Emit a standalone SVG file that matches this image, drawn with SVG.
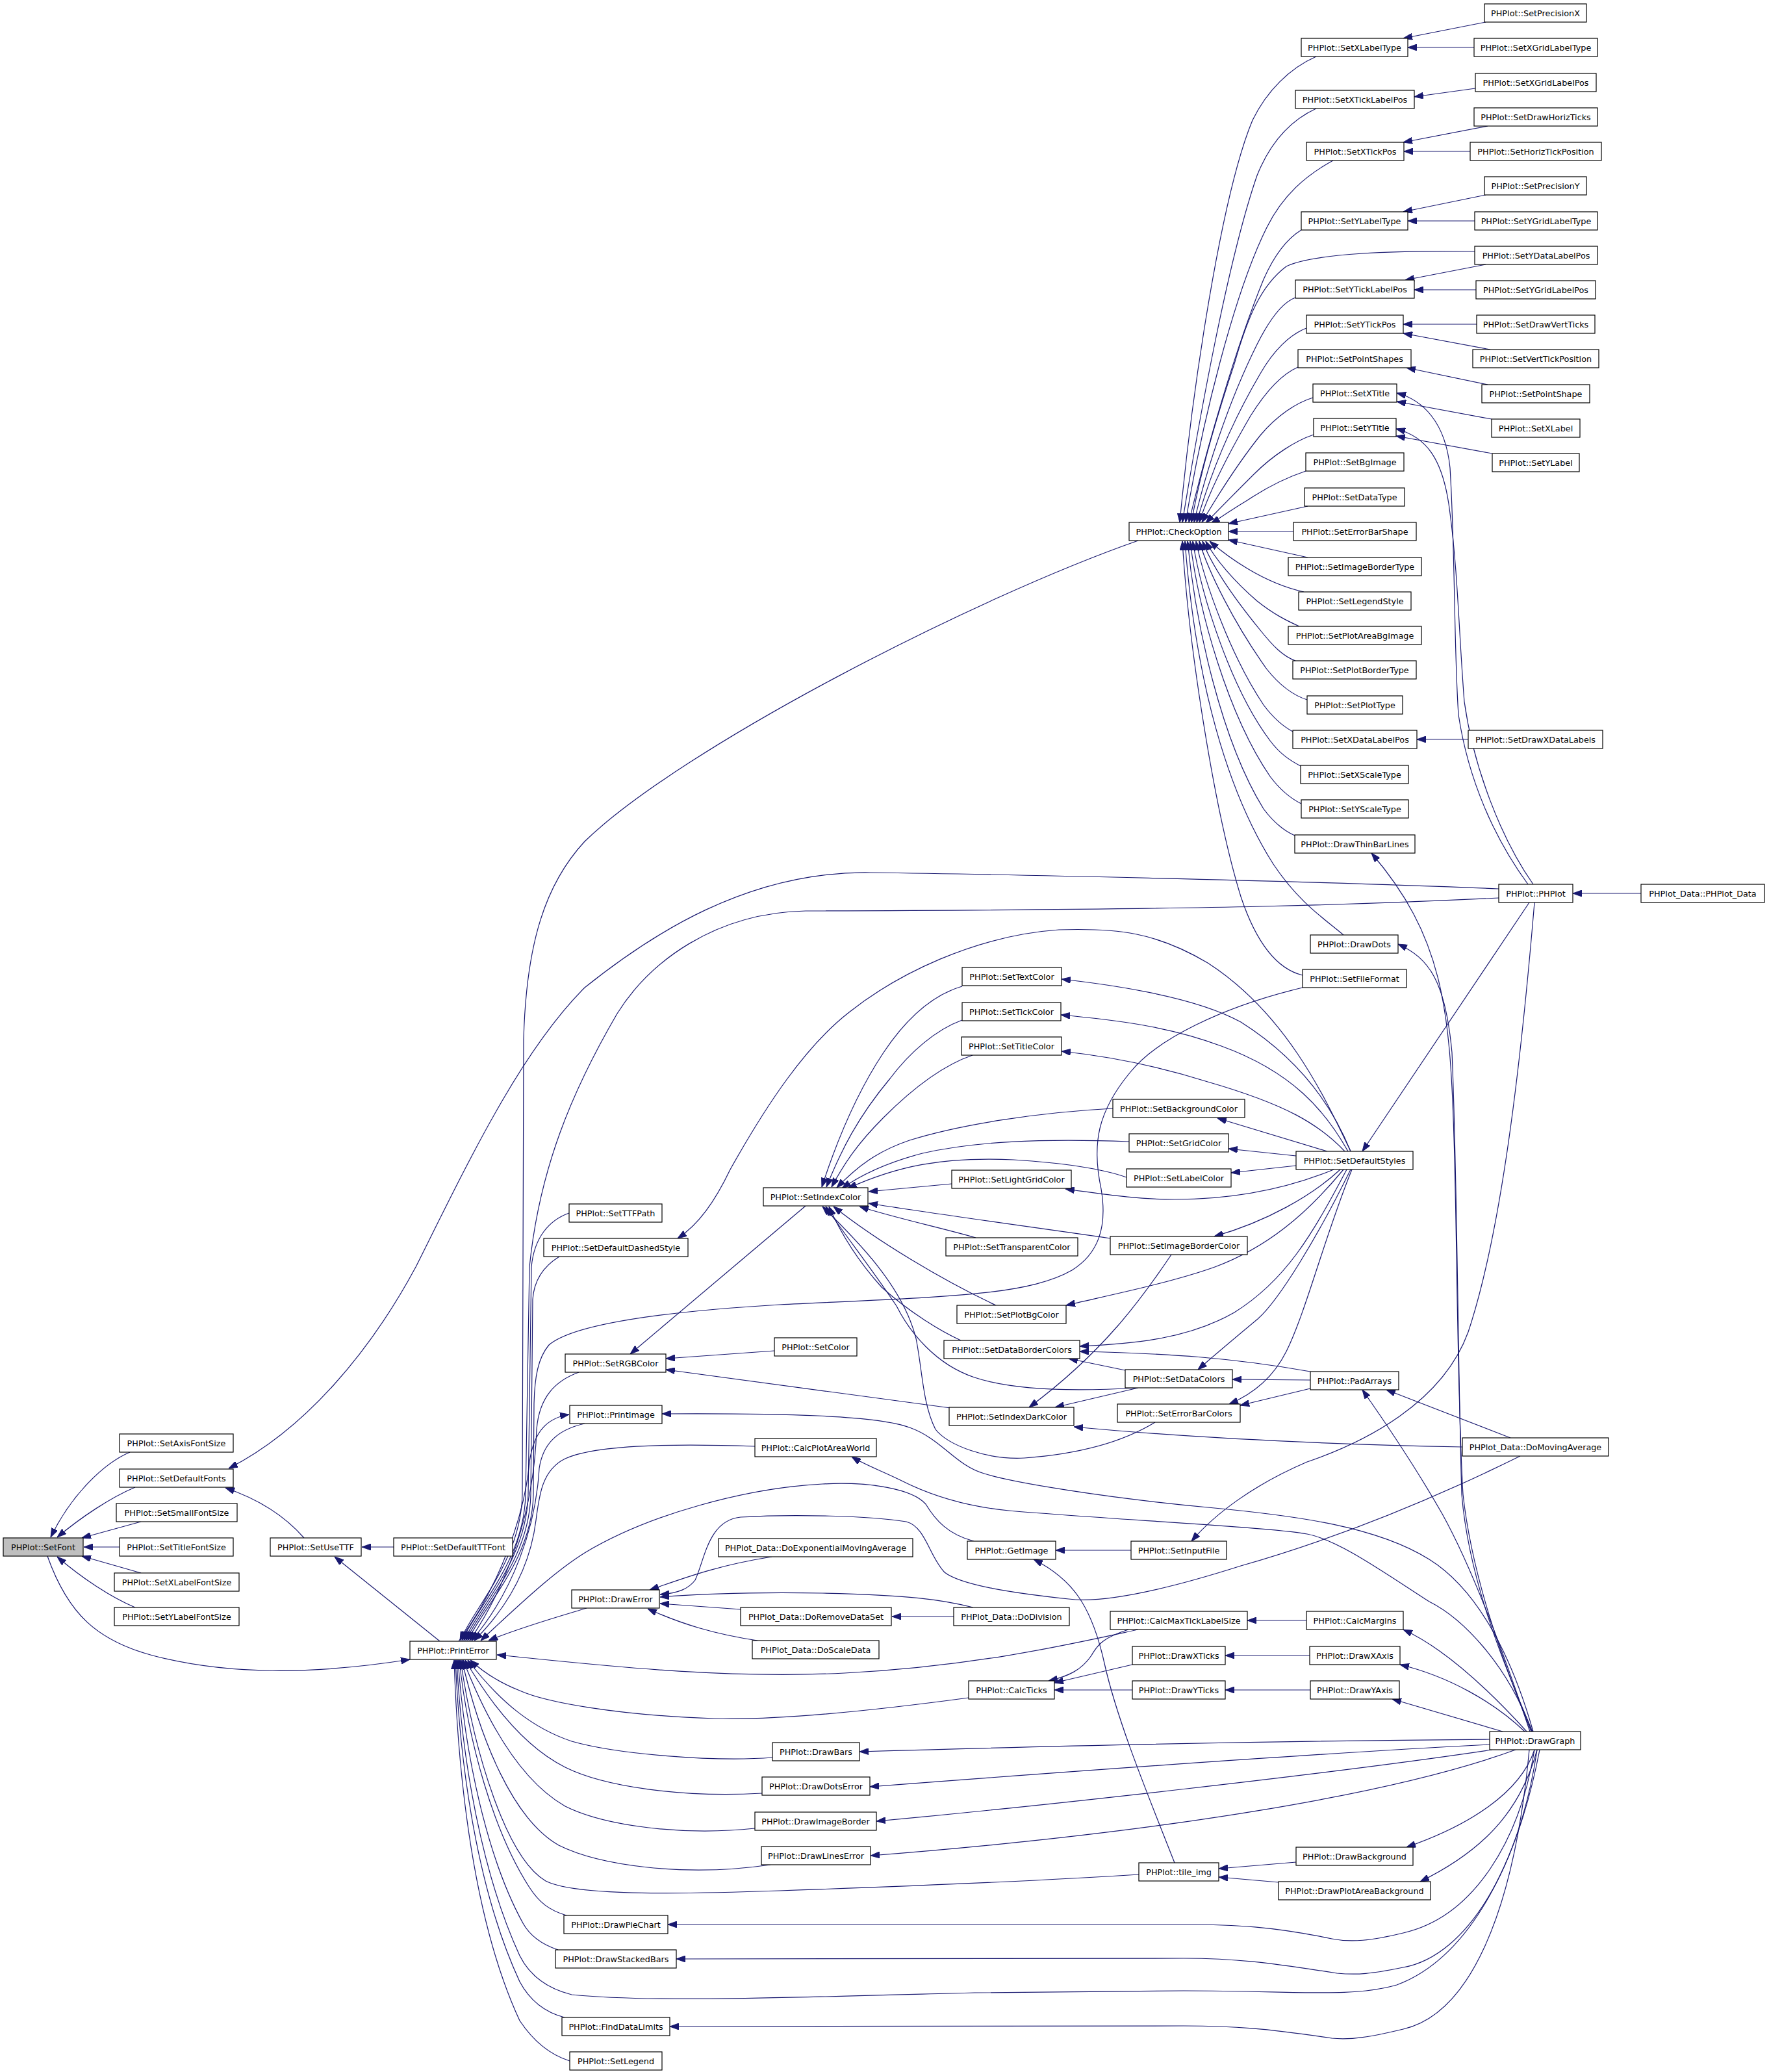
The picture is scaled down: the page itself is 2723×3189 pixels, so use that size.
<svg xmlns="http://www.w3.org/2000/svg" width="2723" height="3189" viewBox="0 0 2723 3189">
<defs>
<marker id="a" viewBox="0 0 14 10" refX="14" refY="5" markerWidth="14" markerHeight="10" markerUnits="userSpaceOnUse" orient="auto">
<path d="M0,0 L14,5 L0,10 z" fill="#191970" stroke="#191970" stroke-width="1"/>
</marker>
</defs>
<style>
.n rect{fill:#ffffff;stroke:#000000;stroke-width:1.2}
.n.f rect{fill:#bfbfbf}
.n text{font-family:"DejaVu Sans","Liberation Sans",sans-serif;font-size:12.8px;fill:#000000;text-anchor:middle}
#edges path{fill:none;stroke:#191970;stroke-width:1.2;marker-end:url(#a)}
</style>
<rect x="0" y="0" width="2723" height="3189" fill="#ffffff"/>
<g id="edges">
<path d="M200,2235 C160,2252 110,2300 78,2366"/>
<path d="M208,2289 C170,2305 125,2335 88,2366"/>
<path d="M217,2342 L126,2367"/>
<path d="M184,2381 L129,2381"/>
<path d="M217,2421 L126,2395"/>
<path d="M208,2474 C170,2458 125,2428 88,2396"/>
<path d="M73,2395 C105,2485 150,2525 235,2548 C350,2578 480,2578 631,2554"/>
<path d="M468,2367 C440,2335 400,2308 347,2290"/>
<path d="M2307,1368 C2000,1355 1500,1345 1340,1343 C1150,1340 1000,1440 900,1520 C800,1620 720,1790 640,1950 C570,2080 470,2200 352,2260"/>
<path d="M606,2381 L557,2381"/>
<path d="M677,2526 L515,2396"/>
<path d="M1752,832 C1500,920 1050,1150 900,1295 C840,1360 810,1450 806,1600 L804,2300 C802,2400 733,2470 708,2525"/>
<path d="M2307,1382 C2100,1392 1900,1400 1240,1402 C1100,1405 1000,1480 950,1560 C880,1680 830,1800 815,1950 L809,2300 C807,2400 737,2470 711,2525"/>
<path d="M876,1867 C845,1878 822,1905 818,1950 L813,2300 C811,2400 740,2470 714,2525"/>
<path d="M861,1934 C838,1948 822,1970 820,2000 L817,2300 C815,2400 743,2470 717,2525"/>
<path d="M2005,1520 C1880,1550 1780,1600 1740,1650 C1690,1710 1680,1760 1695,1830 C1705,1890 1690,1930 1650,1955 C1580,1995 1450,1996 1200,2008 C1000,2020 880,2040 845,2070 C828,2090 823,2120 822,2160 L821,2300 C819,2400 746,2470 720,2525"/>
<path d="M891,2112 C855,2125 830,2150 826,2200 C822,2330 780,2440 723,2525"/>
<path d="M900,2191 C860,2200 836,2220 830,2260 C825,2350 790,2450 726,2525"/>
<path d="M706,2526 C770,2440 808,2330 815,2250 C822,2200 845,2182 876,2177"/>
<path d="M1162,2226 C1050,2222 920,2222 870,2245 C835,2262 830,2300 825,2340 C815,2420 775,2480 730,2525"/>
<path d="M1499,2372 C1460,2362 1440,2340 1425,2315 C1405,2292 1340,2280 1266,2284 C1150,2290 1000,2330 900,2390 C860,2415 820,2450 740,2525"/>
<path d="M903,2475 C860,2488 800,2505 752,2525"/>
<path d="M1752,2508 C1650,2530 1500,2565 1300,2575 C1100,2585 900,2560 765,2547"/>
<path d="M1491,2613 C1350,2632 1200,2648 1100,2645 C950,2640 840,2620 800,2602 C770,2590 745,2575 724,2555"/>
<path d="M1189,2705 C1100,2712 950,2700 880,2680 C820,2660 770,2620 720,2555"/>
<path d="M1173,2760 C1050,2767 930,2750 870,2720 C810,2690 760,2630 716,2555"/>
<path d="M1162,2814 C1050,2826 930,2810 870,2780 C800,2740 750,2650 713,2555"/>
<path d="M1186,2870 C1050,2890 920,2870 860,2840 C790,2800 740,2680 711,2555"/>
<path d="M1753,2885 C1600,2895 1400,2903 1200,2910 C1000,2917 880,2915 840,2895 C780,2860 730,2700 709,2555"/>
<path d="M872,2948 C845,2940 830,2928 815,2905 C760,2820 720,2680 707,2555"/>
<path d="M859,3001 C832,2992 815,2978 805,2960 C750,2860 715,2700 705,2555"/>
<path d="M2370,2693 C2340,2850 2270,3010 2150,3055 C2080,3075 2000,3064 1822,3064 L1500,3067 C1200,3075 1000,3082 880,3070 C840,3060 815,3040 800,3010 C740,2880 710,2700 703,2555"/>
<path d="M869,3105 C838,3097 815,3078 800,3050 C735,2910 708,2720 701,2555"/>
<path d="M877,3172 C845,3162 820,3140 800,3110 C730,2960 705,2740 699,2555"/>
<path d="M1188,2396 C1100,2410 1050,2430 1000,2447"/>
<path d="M2340,2241 C2200,2310 2050,2370 1910,2410 C1800,2445 1700,2468 1645,2461 C1560,2452 1480,2440 1454,2420 C1430,2395 1425,2350 1395,2342 C1340,2333 1220,2330 1140,2335 C1090,2340 1085,2400 1070,2432 C1060,2445 1045,2452 1016,2454"/>
<path d="M1498,2474 C1450,2462 1400,2455 1266,2452 C1150,2450 1080,2453 1016,2458"/>
<path d="M1140,2477 L1016,2468"/>
<path d="M1166,2525 C1100,2515 1050,2500 997,2476"/>
<path d="M1468,2488 L1373,2488"/>
<path d="M1481,1518 C1440,1530 1400,1560 1360,1620 C1320,1680 1290,1750 1265,1827"/>
<path d="M1481,1570 C1440,1585 1400,1620 1370,1660 C1320,1720 1295,1770 1272,1827"/>
<path d="M1497,1624 C1450,1640 1400,1680 1360,1720 C1320,1760 1300,1790 1280,1827"/>
<path d="M1713,1706 C1600,1712 1480,1730 1400,1755 C1350,1772 1320,1795 1288,1828"/>
<path d="M1738,1757 C1600,1752 1500,1757 1420,1775 C1370,1788 1330,1805 1296,1829"/>
<path d="M1734,1812 C1700,1800 1640,1790 1560,1785 C1450,1780 1380,1795 1305,1829"/>
<path d="M1465,1822 L1337,1834"/>
<path d="M1502,1905 C1450,1890 1380,1875 1323,1857"/>
<path d="M1709,1906 C1600,1890 1450,1870 1337,1852"/>
<path d="M1533,2009 C1450,1970 1350,1910 1283,1857"/>
<path d="M1479,2063 C1450,2050 1400,2020 1357,1981 C1320,1940 1295,1900 1276,1857"/>
<path d="M1750,2136 C1650,2142 1560,2140 1500,2120 C1440,2100 1400,2050 1380,2010 C1340,1950 1300,1900 1271,1857"/>
<path d="M1778,2189 C1760,2200 1700,2235 1577,2244 C1520,2247 1460,2225 1440,2200 C1420,2160 1420,2110 1410,2060 C1390,1980 1320,1910 1266,1857"/>
<path d="M2079,1772 C2040,1690 1980,1560 1859,1482 C1780,1435 1720,1428 1630,1431 C1500,1440 1380,1500 1307,1558 C1240,1610 1180,1700 1124,1800 C1100,1850 1075,1885 1043,1906"/>
<path d="M2079,1772 C2050,1700 2000,1630 1910,1573 C1850,1540 1750,1520 1634,1507"/>
<path d="M2075,1772 C2040,1710 1990,1650 1880,1610 C1800,1580 1720,1570 1633,1562"/>
<path d="M2070,1772 C2030,1730 1980,1700 1859,1665 C1780,1640 1700,1625 1634,1618"/>
<path d="M2043,1772 L1874,1721"/>
<path d="M1995,1779 L1891,1768"/>
<path d="M1995,1794 L1895,1805"/>
<path d="M2053,1800 C1980,1830 1900,1846 1808,1846 C1750,1846 1700,1838 1640,1830"/>
<path d="M2063,1800 C2020,1840 1950,1880 1869,1903"/>
<path d="M2068,1800 C2010,1870 1950,1920 1870,1950 C1800,1975 1700,1995 1641,2009"/>
<path d="M2073,1800 C2020,1900 1980,1970 1900,2020 C1830,2060 1750,2068 1662,2072"/>
<path d="M2079,1800 C2030,1900 1970,2000 1936,2030 C1900,2060 1870,2085 1844,2108"/>
<path d="M2081,1800 C2040,1900 2010,2020 1980,2080 C1960,2120 1930,2145 1892,2161"/>
<path d="M2354,1389 L2097,1772"/>
<path d="M2017,2111 C1900,2090 1800,2083 1662,2080"/>
<path d="M2017,2124 L1897,2123"/>
<path d="M2017,2137 L1909,2163"/>
<path d="M1732,2109 L1645,2091"/>
<path d="M1752,2136 L1624,2166"/>
<path d="M1803,1931 C1760,1995 1700,2080 1584,2166"/>
<path d="M2251,2227 C2000,2222 1800,2210 1653,2196"/>
<path d="M1463,2167 L1025,2108"/>
<path d="M1192,2079 L1025,2091"/>
<path d="M1240,1856 L970,2084"/>
<path d="M2325,2213 L2134,2139"/>
<path d="M2355,2665 C2320,2560 2270,2420 2220,2330 C2180,2260 2140,2200 2097,2139"/>
<path d="M2026,87 C1985,105 1950,140 1928,185 C1880,300 1835,600 1816,804"/>
<path d="M2026,167 C1985,186 1955,220 1935,270 C1890,400 1845,650 1820,804"/>
<path d="M2052,247 C2010,270 1975,300 1950,350 C1900,450 1850,650 1825,804"/>
<path d="M2003,354 C1985,365 1965,385 1945,430 C1900,540 1855,700 1830,804"/>
<path d="M2270,387 C2150,385 2020,390 1980,410 C1940,440 1920,490 1900,560 C1870,650 1845,740 1834,804"/>
<path d="M1994,458 C1975,465 1955,490 1935,530 C1890,620 1855,730 1838,804"/>
<path d="M2011,505 C1985,515 1960,540 1940,575 C1890,660 1860,740 1842,804"/>
<path d="M1998,565 C1975,575 1950,600 1925,640 C1890,700 1860,760 1846,804"/>
<path d="M2021,612 C1995,620 1965,640 1940,670 C1900,720 1870,770 1850,804"/>
<path d="M2022,669 C1995,678 1960,700 1930,730 C1900,760 1875,785 1856,805"/>
<path d="M2010,725 C1980,735 1950,750 1920,770 C1895,785 1878,797 1864,806"/>
<path d="M2013,779 L1891,806"/>
<path d="M1991,818 L1891,818"/>
<path d="M2013,858 L1891,831"/>
<path d="M2007,911 C1980,905 1950,893 1920,875 C1895,860 1877,846 1862,833"/>
<path d="M2000,964 C1980,955 1960,945 1935,925 C1900,895 1870,860 1856,833"/>
<path d="M1994,1017 C1975,1010 1960,995 1940,970 C1895,915 1865,870 1851,833"/>
<path d="M2012,1077 C1990,1070 1970,1055 1950,1030 C1900,960 1860,880 1846,833"/>
<path d="M1990,1126 C1975,1118 1960,1105 1945,1085 C1895,1010 1855,900 1841,833"/>
<path d="M2002,1179 C1985,1170 1970,1160 1955,1140 C1895,1060 1850,920 1836,833"/>
<path d="M2003,1237 C1985,1228 1970,1215 1955,1195 C1890,1100 1845,940 1832,833"/>
<path d="M1993,1286 C1975,1278 1960,1265 1945,1245 C1880,1140 1840,960 1828,833"/>
<path d="M2068,1439 C2040,1415 2000,1390 1960,1330 C1890,1220 1840,1050 1824,833"/>
<path d="M2005,1501 C1960,1490 1930,1440 1910,1380 C1870,1250 1830,1000 1820,833"/>
<path d="M2287,34 L2160,59"/>
<path d="M2269,73 L2167,73"/>
<path d="M2271,136 L2177,149"/>
<path d="M2290,194 L2160,219"/>
<path d="M2263,233 L2161,233"/>
<path d="M2287,300 L2160,326"/>
<path d="M2270,340 L2167,340"/>
<path d="M2287,407 L2163,431"/>
<path d="M2272,446 L2177,446"/>
<path d="M2273,499 L2160,499"/>
<path d="M2294,538 L2160,513"/>
<path d="M2290,592 L2165,566"/>
<path d="M2296,645 L2150,618"/>
<path d="M2297,698 L2149,671"/>
<path d="M2260,1138 L2181,1138"/>
<path d="M2352,1361 C2300,1290 2260,1200 2245,1100 C2238,1000 2240,850 2232,720 C2225,650 2190,615 2150,605"/>
<path d="M2360,1361 C2310,1290 2268,1180 2254,1080 C2246,980 2244,880 2232,790 C2222,705 2195,672 2149,660"/>
<path d="M2362,1389 C2340,1650 2310,1900 2260,2050 C2220,2160 2100,2220 2012,2250 C1930,2285 1870,2330 1834,2372"/>
<path d="M2526,1375 L2421,1375"/>
<path d="M1808,2867 C1770,2770 1720,2650 1700,2560 C1680,2470 1650,2430 1591,2400"/>
<path d="M1741,2386 L1625,2386"/>
<path d="M2360,2665 C2330,2560 2280,2450 2200,2400 C2120,2350 2000,2333 1859,2320 C1700,2305 1560,2282 1515,2268 C1470,2255 1450,2215 1400,2197 C1350,2178 1200,2175 1019,2176"/>
<path d="M2358,2665 C2320,2560 2250,2490 2200,2465 C2130,2420 2060,2370 2012,2361 C1950,2350 1700,2338 1553,2325 C1480,2318 1430,2300 1390,2280 C1360,2265 1330,2254 1311,2242"/>
<path d="M2357,2665 C2310,2550 2265,2420 2252,2300 C2243,2150 2243,1900 2238,1750 C2232,1550 2220,1440 2111,1313"/>
<path d="M2359,2665 C2305,2540 2260,2420 2250,2300 C2244,2100 2243,1800 2235,1620 C2225,1510 2200,1475 2152,1453"/>
<path d="M2350,2665 C2300,2610 2230,2540 2160,2508"/>
<path d="M2347,2665 C2300,2620 2230,2580 2155,2562"/>
<path d="M2313,2665 L2143,2615"/>
<path d="M2293,2677 C1900,2680 1600,2688 1323,2696"/>
<path d="M2293,2685 C2000,2700 1600,2730 1339,2750"/>
<path d="M2297,2693 C2050,2730 1600,2780 1349,2803"/>
<path d="M2333,2693 C2150,2760 1800,2820 1340,2856"/>
<path d="M2362,2693 C2340,2760 2260,2810 2165,2843"/>
<path d="M2366,2693 C2340,2790 2280,2850 2186,2896"/>
<path d="M2362,2693 C2340,2830 2270,2950 2160,2975 C2110,2987 2080,2990 2050,2984 C1960,2965 1900,2962 1822,2962 L1028,2962"/>
<path d="M2366,2693 C2340,2870 2260,3010 2160,3028 C2110,3038 2090,3040 2058,3037 C1950,3020 1900,3014 1822,3014 L1041,3015"/>
<path d="M2354,2693 C2330,2950 2260,3100 2160,3123 C2110,3135 2080,3140 2050,3137 C1950,3122 1900,3118 1822,3118 L1031,3119"/>
<path d="M1737,2508 C1700,2520 1690,2530 1680,2548 C1665,2570 1645,2580 1614,2587"/>
<path d="M1743,2562 L1623,2590"/>
<path d="M1743,2601 L1623,2601"/>
<path d="M2011,2494 L1920,2494"/>
<path d="M2016,2548 L1886,2548"/>
<path d="M2017,2601 L1886,2601"/>
<path d="M1995,2866 L1876,2876"/>
<path d="M1968,2897 L1876,2889"/>
</g>
<g id="n_SetFont" class="n f"><rect x="5" y="2367" width="123" height="28"/><text x="66.5" y="2385.5">PHPlot::SetFont</text></g>
<g id="n_SetAxisFontSize" class="n"><rect x="184" y="2207" width="175" height="28"/><text x="271.5" y="2225.5">PHPlot::SetAxisFontSize</text></g>
<g id="n_SetDefaultFonts" class="n"><rect x="184" y="2261" width="175" height="28"/><text x="271.5" y="2279.5">PHPlot::SetDefaultFonts</text></g>
<g id="n_SetSmallFontSize" class="n"><rect x="179" y="2314" width="186" height="28"/><text x="272" y="2332.5">PHPlot::SetSmallFontSize</text></g>
<g id="n_SetTitleFontSize" class="n"><rect x="184" y="2367" width="175" height="28"/><text x="271.5" y="2385.5">PHPlot::SetTitleFontSize</text></g>
<g id="n_SetXLabelFontSize" class="n"><rect x="176" y="2421" width="192" height="28"/><text x="272" y="2439.5">PHPlot::SetXLabelFontSize</text></g>
<g id="n_SetYLabelFontSize" class="n"><rect x="176" y="2474" width="192" height="28"/><text x="272" y="2492.5">PHPlot::SetYLabelFontSize</text></g>
<g id="n_SetUseTTF" class="n"><rect x="416" y="2367" width="140" height="28"/><text x="486" y="2385.5">PHPlot::SetUseTTF</text></g>
<g id="n_SetDefaultTTFont" class="n"><rect x="606" y="2367" width="183" height="28"/><text x="697.5" y="2385.5">PHPlot::SetDefaultTTFont</text></g>
<g id="n_PrintError" class="n"><rect x="631" y="2526" width="133" height="28"/><text x="697.5" y="2544.5">PHPlot::PrintError</text></g>
<g id="n_SetTTFPath" class="n"><rect x="876" y="1853" width="143" height="28"/><text x="947.5" y="1871.5">PHPlot::SetTTFPath</text></g>
<g id="n_SetDefaultDashedStyle" class="n"><rect x="837" y="1906" width="222" height="28"/><text x="948" y="1924.5">PHPlot::SetDefaultDashedStyle</text></g>
<g id="n_SetRGBColor" class="n"><rect x="870" y="2084" width="155" height="28"/><text x="947.5" y="2102.5">PHPlot::SetRGBColor</text></g>
<g id="n_PrintImage" class="n"><rect x="877" y="2163" width="142" height="28"/><text x="948" y="2181.5">PHPlot::PrintImage</text></g>
<g id="n_DrawError" class="n"><rect x="880" y="2447" width="135" height="28"/><text x="947.5" y="2465.5">PHPlot::DrawError</text></g>
<g id="n_DrawPieChart" class="n"><rect x="868" y="2948" width="160" height="28"/><text x="948" y="2966.5">PHPlot::DrawPieChart</text></g>
<g id="n_DrawStackedBars" class="n"><rect x="855" y="3001" width="186" height="28"/><text x="948" y="3019.5">PHPlot::DrawStackedBars</text></g>
<g id="n_FindDataLimits" class="n"><rect x="865" y="3105" width="166" height="28"/><text x="948" y="3123.5">PHPlot::FindDataLimits</text></g>
<g id="n_SetLegend" class="n"><rect x="877" y="3158" width="142" height="28"/><text x="948" y="3176.5">PHPlot::SetLegend</text></g>
<g id="n_SetIndexColor" class="n"><rect x="1175" y="1828" width="161" height="28"/><text x="1255.5" y="1846.5">PHPlot::SetIndexColor</text></g>
<g id="n_SetColor" class="n"><rect x="1192" y="2059" width="127" height="28"/><text x="1255.5" y="2077.5">PHPlot::SetColor</text></g>
<g id="n_CalcPlotAreaWorld" class="n"><rect x="1162" y="2214" width="187" height="28"/><text x="1255.5" y="2232.5">PHPlot::CalcPlotAreaWorld</text></g>
<g id="n_DoExponentialMovingAverage" class="n"><rect x="1106" y="2368" width="299" height="28"/><text x="1255.5" y="2386.5">PHPlot_Data::DoExponentialMovingAverage</text></g>
<g id="n_DoRemoveDataSet" class="n"><rect x="1140" y="2474" width="232" height="28"/><text x="1256" y="2492.5">PHPlot_Data::DoRemoveDataSet</text></g>
<g id="n_DoScaleData" class="n"><rect x="1158" y="2525" width="195" height="28"/><text x="1255.5" y="2543.5">PHPlot_Data::DoScaleData</text></g>
<g id="n_DrawBars" class="n"><rect x="1189" y="2682" width="134" height="28"/><text x="1256" y="2700.5">PHPlot::DrawBars</text></g>
<g id="n_DrawDotsError" class="n"><rect x="1173" y="2735" width="166" height="28"/><text x="1256" y="2753.5">PHPlot::DrawDotsError</text></g>
<g id="n_DrawImageBorder" class="n"><rect x="1162" y="2789" width="187" height="28"/><text x="1255.5" y="2807.5">PHPlot::DrawImageBorder</text></g>
<g id="n_DrawLinesError" class="n"><rect x="1172" y="2842" width="168" height="28"/><text x="1256" y="2860.5">PHPlot::DrawLinesError</text></g>
<g id="n_SetTextColor" class="n"><rect x="1481" y="1489" width="153" height="28"/><text x="1557.5" y="1507.5">PHPlot::SetTextColor</text></g>
<g id="n_SetTickColor" class="n"><rect x="1481" y="1543" width="152" height="28"/><text x="1557" y="1561.5">PHPlot::SetTickColor</text></g>
<g id="n_SetTitleColor" class="n"><rect x="1480" y="1596" width="154" height="28"/><text x="1557" y="1614.5">PHPlot::SetTitleColor</text></g>
<g id="n_SetLightGridColor" class="n"><rect x="1465" y="1801" width="184" height="28"/><text x="1557" y="1819.5">PHPlot::SetLightGridColor</text></g>
<g id="n_SetTransparentColor" class="n"><rect x="1456" y="1905" width="203" height="28"/><text x="1557.5" y="1923.5">PHPlot::SetTransparentColor</text></g>
<g id="n_SetPlotBgColor" class="n"><rect x="1473" y="2009" width="168" height="28"/><text x="1557" y="2027.5">PHPlot::SetPlotBgColor</text></g>
<g id="n_SetDataBorderColors" class="n"><rect x="1453" y="2063" width="209" height="28"/><text x="1557.5" y="2081.5">PHPlot::SetDataBorderColors</text></g>
<g id="n_SetIndexDarkColor" class="n"><rect x="1461" y="2166" width="192" height="28"/><text x="1557" y="2184.5">PHPlot::SetIndexDarkColor</text></g>
<g id="n_GetImage" class="n"><rect x="1489" y="2372" width="136" height="28"/><text x="1557" y="2390.5">PHPlot::GetImage</text></g>
<g id="n_DoDivision" class="n"><rect x="1468" y="2474" width="178" height="28"/><text x="1557" y="2492.5">PHPlot_Data::DoDivision</text></g>
<g id="n_CalcTicks" class="n"><rect x="1491" y="2587" width="132" height="28"/><text x="1557" y="2605.5">PHPlot::CalcTicks</text></g>
<g id="n_tile_img" class="n"><rect x="1753" y="2867" width="123" height="28"/><text x="1814.5" y="2885.5">PHPlot::tile_img</text></g>
<g id="n_SetBackgroundColor" class="n"><rect x="1713" y="1692" width="203" height="28"/><text x="1814.5" y="1710.5">PHPlot::SetBackgroundColor</text></g>
<g id="n_SetGridColor" class="n"><rect x="1738" y="1745" width="153" height="28"/><text x="1814.5" y="1763.5">PHPlot::SetGridColor</text></g>
<g id="n_SetLabelColor" class="n"><rect x="1734" y="1799" width="161" height="28"/><text x="1814.5" y="1817.5">PHPlot::SetLabelColor</text></g>
<g id="n_SetImageBorderColor" class="n"><rect x="1709" y="1903" width="211" height="28"/><text x="1814.5" y="1921.5">PHPlot::SetImageBorderColor</text></g>
<g id="n_SetDataColors" class="n"><rect x="1732" y="2108" width="165" height="28"/><text x="1814.5" y="2126.5">PHPlot::SetDataColors</text></g>
<g id="n_SetErrorBarColors" class="n"><rect x="1720" y="2161" width="189" height="28"/><text x="1814.5" y="2179.5">PHPlot::SetErrorBarColors</text></g>
<g id="n_SetInputFile" class="n"><rect x="1741" y="2372" width="147" height="28"/><text x="1814.5" y="2390.5">PHPlot::SetInputFile</text></g>
<g id="n_CalcMaxTickLabelSize" class="n"><rect x="1709" y="2480" width="211" height="28"/><text x="1814.5" y="2498.5">PHPlot::CalcMaxTickLabelSize</text></g>
<g id="n_DrawXTicks" class="n"><rect x="1743" y="2534" width="143" height="28"/><text x="1814.5" y="2552.5">PHPlot::DrawXTicks</text></g>
<g id="n_DrawYTicks" class="n"><rect x="1743" y="2587" width="143" height="28"/><text x="1814.5" y="2605.5">PHPlot::DrawYTicks</text></g>
<g id="n_CheckOption" class="n"><rect x="1738" y="804" width="153" height="28"/><text x="1814.5" y="822.5">PHPlot::CheckOption</text></g>
<g id="n_SetDefaultStyles" class="n"><rect x="1995" y="1772" width="180" height="28"/><text x="2085" y="1790.5">PHPlot::SetDefaultStyles</text></g>
<g id="n_DrawDots" class="n"><rect x="2017" y="1439" width="135" height="28"/><text x="2084.5" y="1457.5">PHPlot::DrawDots</text></g>
<g id="n_SetFileFormat" class="n"><rect x="2005" y="1492" width="160" height="28"/><text x="2085" y="1510.5">PHPlot::SetFileFormat</text></g>
<g id="n_PadArrays" class="n"><rect x="2017" y="2111" width="136" height="28"/><text x="2085" y="2129.5">PHPlot::PadArrays</text></g>
<g id="n_CalcMargins" class="n"><rect x="2011" y="2480" width="149" height="28"/><text x="2085.5" y="2498.5">PHPlot::CalcMargins</text></g>
<g id="n_DrawXAxis" class="n"><rect x="2016" y="2534" width="139" height="28"/><text x="2085.5" y="2552.5">PHPlot::DrawXAxis</text></g>
<g id="n_DrawYAxis" class="n"><rect x="2017" y="2587" width="137" height="28"/><text x="2085.5" y="2605.5">PHPlot::DrawYAxis</text></g>
<g id="n_DrawBackground" class="n"><rect x="1995" y="2843" width="180" height="28"/><text x="2085" y="2861.5">PHPlot::DrawBackground</text></g>
<g id="n_DrawPlotAreaBackground" class="n"><rect x="1968" y="2896" width="234" height="28"/><text x="2085" y="2914.5">PHPlot::DrawPlotAreaBackground</text></g>
<g id="n_DrawGraph" class="n"><rect x="2293" y="2665" width="140" height="28"/><text x="2363" y="2683.5">PHPlot::DrawGraph</text></g>
<g id="n_DoMovingAverage" class="n"><rect x="2251" y="2213" width="225" height="28"/><text x="2363.5" y="2231.5">PHPlot_Data::DoMovingAverage</text></g>
<g id="n_PHPlot" class="n"><rect x="2307" y="1361" width="114" height="28"/><text x="2364" y="1379.5">PHPlot::PHPlot</text></g>
<g id="n_PHPlot_Data" class="n"><rect x="2526" y="1361" width="190" height="28"/><text x="2621" y="1379.5">PHPlot_Data::PHPlot_Data</text></g>
<g id="n_SetXLabelType" class="n"><rect x="2003" y="59" width="164" height="28"/><text x="2085" y="77.5">PHPlot::SetXLabelType</text></g>
<g id="n_SetXTickLabelPos" class="n"><rect x="1994" y="139" width="183" height="28"/><text x="2085.5" y="157.5">PHPlot::SetXTickLabelPos</text></g>
<g id="n_SetXTickPos" class="n"><rect x="2011" y="219" width="150" height="28"/><text x="2086" y="237.5">PHPlot::SetXTickPos</text></g>
<g id="n_SetYLabelType" class="n"><rect x="2003" y="326" width="164" height="28"/><text x="2085" y="344.5">PHPlot::SetYLabelType</text></g>
<g id="n_SetYTickLabelPos" class="n"><rect x="1994" y="431" width="183" height="28"/><text x="2085.5" y="449.5">PHPlot::SetYTickLabelPos</text></g>
<g id="n_SetYTickPos" class="n"><rect x="2011" y="485" width="149" height="28"/><text x="2085.5" y="503.5">PHPlot::SetYTickPos</text></g>
<g id="n_SetPointShapes" class="n"><rect x="1998" y="538" width="174" height="28"/><text x="2085" y="556.5">PHPlot::SetPointShapes</text></g>
<g id="n_SetXTitle" class="n"><rect x="2021" y="591" width="129" height="28"/><text x="2085.5" y="609.5">PHPlot::SetXTitle</text></g>
<g id="n_SetYTitle" class="n"><rect x="2022" y="644" width="127" height="28"/><text x="2085.5" y="662.5">PHPlot::SetYTitle</text></g>
<g id="n_SetBgImage" class="n"><rect x="2010" y="697" width="151" height="28"/><text x="2085.5" y="715.5">PHPlot::SetBgImage</text></g>
<g id="n_SetDataType" class="n"><rect x="2008" y="751" width="154" height="28"/><text x="2085" y="769.5">PHPlot::SetDataType</text></g>
<g id="n_SetErrorBarShape" class="n"><rect x="1991" y="804" width="189" height="28"/><text x="2085.5" y="822.5">PHPlot::SetErrorBarShape</text></g>
<g id="n_SetImageBorderType" class="n"><rect x="1983" y="858" width="205" height="28"/><text x="2085.5" y="876.5">PHPlot::SetImageBorderType</text></g>
<g id="n_SetLegendStyle" class="n"><rect x="1999" y="911" width="173" height="28"/><text x="2085.5" y="929.5">PHPlot::SetLegendStyle</text></g>
<g id="n_SetPlotAreaBgImage" class="n"><rect x="1983" y="964" width="205" height="28"/><text x="2085.5" y="982.5">PHPlot::SetPlotAreaBgImage</text></g>
<g id="n_SetPlotBorderType" class="n"><rect x="1990" y="1017" width="190" height="28"/><text x="2085" y="1035.5">PHPlot::SetPlotBorderType</text></g>
<g id="n_SetPlotType" class="n"><rect x="2012" y="1071" width="147" height="28"/><text x="2085.5" y="1089.5">PHPlot::SetPlotType</text></g>
<g id="n_SetXDataLabelPos" class="n"><rect x="1990" y="1124" width="191" height="28"/><text x="2085.5" y="1142.5">PHPlot::SetXDataLabelPos</text></g>
<g id="n_SetXScaleType" class="n"><rect x="2002" y="1178" width="166" height="28"/><text x="2085" y="1196.5">PHPlot::SetXScaleType</text></g>
<g id="n_SetYScaleType" class="n"><rect x="2003" y="1231" width="165" height="28"/><text x="2085.5" y="1249.5">PHPlot::SetYScaleType</text></g>
<g id="n_DrawThinBarLines" class="n"><rect x="1993" y="1285" width="185" height="28"/><text x="2085.5" y="1303.5">PHPlot::DrawThinBarLines</text></g>
<g id="n_SetPrecisionX" class="n"><rect x="2285" y="6" width="157" height="28"/><text x="2363.5" y="24.5">PHPlot::SetPrecisionX</text></g>
<g id="n_SetXGridLabelType" class="n"><rect x="2269" y="59" width="190" height="28"/><text x="2364" y="77.5">PHPlot::SetXGridLabelType</text></g>
<g id="n_SetXGridLabelPos" class="n"><rect x="2271" y="113" width="186" height="28"/><text x="2364" y="131.5">PHPlot::SetXGridLabelPos</text></g>
<g id="n_SetDrawHorizTicks" class="n"><rect x="2269" y="166" width="190" height="28"/><text x="2364" y="184.5">PHPlot::SetDrawHorizTicks</text></g>
<g id="n_SetHorizTickPosition" class="n"><rect x="2263" y="219" width="202" height="28"/><text x="2364" y="237.5">PHPlot::SetHorizTickPosition</text></g>
<g id="n_SetPrecisionY" class="n"><rect x="2285" y="272" width="157" height="28"/><text x="2363.5" y="290.5">PHPlot::SetPrecisionY</text></g>
<g id="n_SetYGridLabelType" class="n"><rect x="2270" y="326" width="189" height="28"/><text x="2364.5" y="344.5">PHPlot::SetYGridLabelType</text></g>
<g id="n_SetYDataLabelPos" class="n"><rect x="2270" y="379" width="189" height="28"/><text x="2364.5" y="397.5">PHPlot::SetYDataLabelPos</text></g>
<g id="n_SetYGridLabelPos" class="n"><rect x="2272" y="432" width="184" height="28"/><text x="2364" y="450.5">PHPlot::SetYGridLabelPos</text></g>
<g id="n_SetDrawVertTicks" class="n"><rect x="2273" y="485" width="182" height="28"/><text x="2364" y="503.5">PHPlot::SetDrawVertTicks</text></g>
<g id="n_SetVertTickPosition" class="n"><rect x="2267" y="538" width="194" height="28"/><text x="2364" y="556.5">PHPlot::SetVertTickPosition</text></g>
<g id="n_SetPointShape" class="n"><rect x="2281" y="592" width="166" height="28"/><text x="2364" y="610.5">PHPlot::SetPointShape</text></g>
<g id="n_SetXLabel" class="n"><rect x="2296" y="645" width="136" height="28"/><text x="2364" y="663.5">PHPlot::SetXLabel</text></g>
<g id="n_SetYLabel" class="n"><rect x="2297" y="698" width="134" height="28"/><text x="2364" y="716.5">PHPlot::SetYLabel</text></g>
<g id="n_SetDrawXDataLabels" class="n"><rect x="2260" y="1124" width="207" height="28"/><text x="2363.5" y="1142.5">PHPlot::SetDrawXDataLabels</text></g>
</svg>
